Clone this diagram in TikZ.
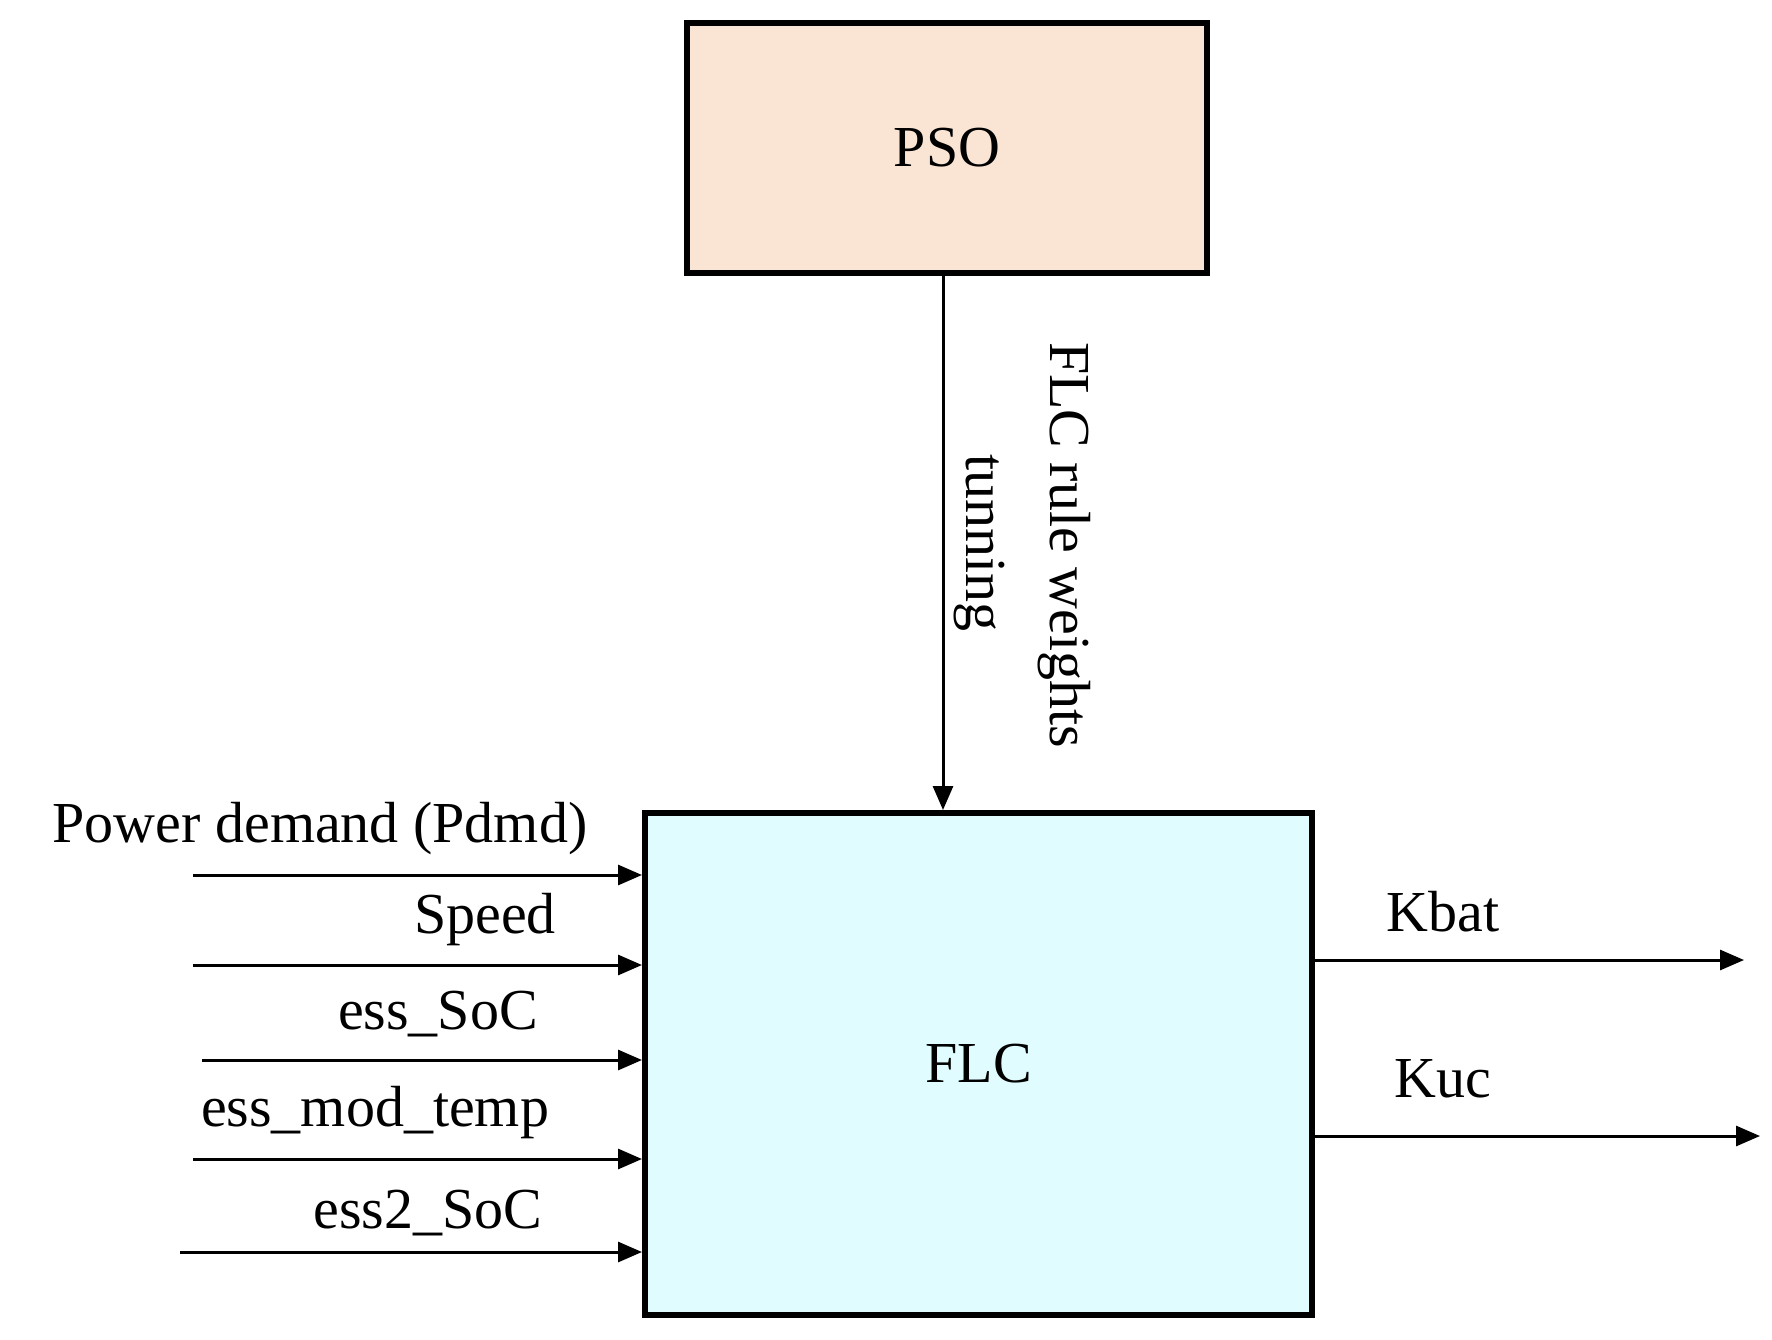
\documentclass[tikz,border=0pt]{standalone}
\usepackage{fontspec}
\setmainfont{Liberation Serif}
\usetikzlibrary{arrows.meta}
\begin{document}
\begin{tikzpicture}[x=1pt,y=-1pt,
  box/.style={draw,line width=6pt,inner sep=0pt},
  conn/.style={line width=3pt,-{Triangle[length=24pt,width=20pt]}},
  lab/.style={font=\fontsize{58}{60}\selectfont,inner sep=0pt}]
\useasboundingbox (0,0) rectangle (1772,1339);
\node[box,fill={rgb,255:red,250;green,228;blue,212},minimum width=520pt,minimum height=250pt] (pso) at (947,148) {};
\node[lab] at (pso.center) {PSO};
\node[box,fill={rgb,255:red,224;green,252;blue,254},minimum width=667pt,minimum height=502pt] (flc) at (978.5,1064) {};
\node[lab] at (flc.center) {FLC};
\coordinate (ft) at (943,810);
\draw[conn] (pso.south -| ft) -- (ft);
\node[lab,rotate=-90] at (1064,545) {FLC rule weights};
\node[lab,rotate=-90] at (979,543) {tunning};
\foreach \n/\xs/\yy in {a/193/875,b/193/965,c/202/1060,d/193/1159,e/180/1252}{
  \coordinate (s\n) at (\xs,\yy);
  \draw[conn] (s\n) -- (s\n -| flc.west);
}
\node[lab] at (320,829) {Power demand (Pdmd)};
\node[lab] at (485,920) {Speed};
\node[lab] at (438,1014) {ess\_SoC};
\node[lab] at (375,1113) {ess\_mod\_temp};
\node[lab] at (428,1213) {ess2\_SoC};
\coordinate (ka) at (1744,960);
\coordinate (kb) at (1760,1136);
\draw[conn] (ka -| flc.east) -- (ka);
\draw[conn] (kb -| flc.east) -- (kb);
\node[lab] at (1443,912) {Kbat};
\node[lab] at (1443,1079) {Kuc};
\end{tikzpicture}
\end{document}
